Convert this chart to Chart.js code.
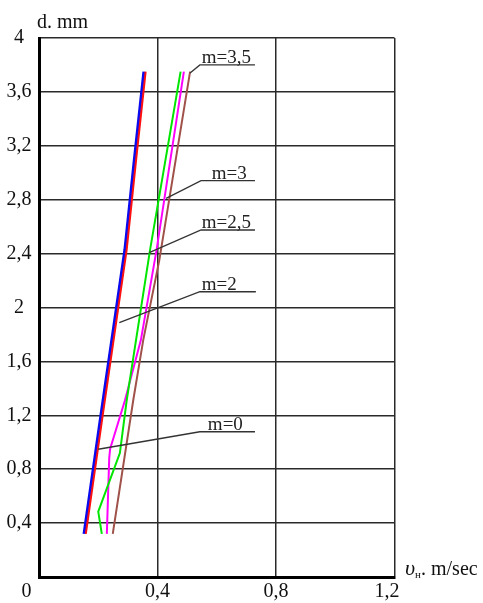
<!DOCTYPE html>
<html>
<head>
<meta charset="utf-8">
<script src="https://cdn.jsdelivr.net/npm/chart.js@4/dist/chart.umd.min.js"></script>
<style>
  html, body { margin: 0; padding: 0; background: #fff; }
</style>
</head>
<body>
<canvas id="myChart" width="483" height="603"></canvas>
<script>
const X_TICKS = [0, 0.4, 0.8, 1.2];
const X_TICK_LABELS = ["0", "0,4", "0,8", "1,2"];
const Y_TICKS = [0, 0.4, 0.8, 1.2, 1.6, 2, 2.4, 2.8, 3.2, 3.6, 4];
const Y_TICK_LABELS = ["", "0,4", "0,8", "1,2", "1,6", "2", "2,4", "2,8", "3,2", "3,6", "4"];

// speed (m/sec) vs diameter (mm), one pair of arrays per curve
const M0_V = [0.152, 0.209, 0.29, 0.322, 0.354];
const M0_D = [0.32, 1.2, 2.43, 3.1, 3.75];
const M2_V = [0.158, 0.215, 0.296, 0.328, 0.36];
const M2_D = [0.32, 1.2, 2.43, 3.1, 3.75];
const M25_V = [0.212, 0.2, 0.273, 0.296, 0.317, 0.375, 0.478];
const M25_D = [0.32, 0.485, 0.92, 1.31, 1.61, 2.43, 3.75];
const M3_V = [0.229, 0.237, 0.24, 0.29, 0.344, 0.397, 0.489];
const M3_D = [0.32, 0.88, 0.95, 1.31, 1.76, 2.43, 3.75];
const M35_V = [0.249, 0.318, 0.352, 0.406, 0.51];
const M35_D = [0.32, 1.31, 1.76, 2.35, 3.75];

const FONT = "'Liberation Serif', 'Times New Roman', serif";

// leader lines with labels, in data units
const CALLOUTS = [
  { text: "m=3,5", tip: [0.51, 3.74], from: 0.543, to: 0.729, at: 3.8, textX: 0.549 },
  { text: "m=3", tip: [0.429, 2.81], from: 0.547, to: 0.729, at: 2.941, textX: 0.583 },
  { text: "m=2,5", tip: [0.372, 2.407], from: 0.547, to: 0.729, at: 2.575, textX: 0.549 },
  { text: "m=2", tip: [0.271, 1.887], from: 0.543, to: 0.732, at: 2.117, textX: 0.549 },
  { text: "m=0", tip: [0.2, 0.948], from: 0.543, to: 0.729, at: 1.078, textX: 0.57 },
];

function toPoints(xs, ys) {
  return xs.map((x, i) => ({ x: x, y: ys[i] }));
}

const calloutPlugin = {
  id: "callouts",
  afterDatasetsDraw(chart) {
    const c = chart.ctx;
    const sx = chart.scales.x;
    const sy = chart.scales.y;
    c.save();
    c.strokeStyle = "#333";
    c.lineWidth = 1.3;
    c.fillStyle = "#222";
    c.font = "19px " + FONT;
    c.textBaseline = "alphabetic";
    CALLOUTS.forEach((co) => {
      const y = sy.getPixelForValue(co.at);
      c.beginPath();
      c.moveTo(sx.getPixelForValue(co.tip[0]), sy.getPixelForValue(co.tip[1]));
      c.lineTo(sx.getPixelForValue(co.from), y);
      c.lineTo(sx.getPixelForValue(co.to), y);
      c.stroke();
      c.fillText(co.text, sx.getPixelForValue(co.textX), y - 2);
    });

    // axis titles
    const area = chart.chartArea;
    c.fillStyle = "#111";
    c.font = "20px " + FONT;
    c.fillText("d. mm", area.left - 2, area.top - 10.5);
    let x = area.right + 10.5;
    const base = area.bottom - 2;
    c.font = "italic 22px " + FONT;
    c.fillText("\u03c5", x, base);
    x += c.measureText("\u03c5").width;
    c.font = "11px " + FONT;
    c.fillText("\u043d", x, base + 3);
    x += c.measureText("\u043d").width;
    c.font = "20px " + FONT;
    c.fillText(". m/sec", x, base);
    c.restore();
  },
};

function lineSet(label, xs, ys, color, width) {
  return {
    label: label,
    data: toPoints(xs, ys),
    showLine: true,
    borderColor: color,
    backgroundColor: color,
    borderWidth: width,
    pointRadius: 0,
    tension: 0,
  };
}

const ctx = document.getElementById("myChart").getContext("2d");

new Chart(ctx, {
  type: "scatter",
  data: {
    datasets: [
      lineSet("m=2", M2_V, M2_D, "#ff1010", 2),
      lineSet("m=0", M0_V, M0_D, "#0a0aee", 3),
      lineSet("m=2,5", M25_V, M25_D, "#00e600", 2),
      lineSet("m=3", M3_V, M3_D, "#ff00ff", 2),
      lineSet("m=3,5", M35_V, M35_D, "#a0524a", 2),
    ],
  },
  options: {
    responsive: false,
    animation: false,
    layout: { padding: { top: 38, right: 88.5, left: 0, bottom: 0 } },
    plugins: {
      legend: { display: false },
      tooltip: { enabled: false },
    },
    scales: {
      x: {
        type: "linear",
        min: 0,
        max: 1.2,
        afterBuildTicks: (scale) => {
          scale.ticks = X_TICKS.map((v) => ({ value: v }));
        },
        afterFit: (scale) => {
          scale.height = 26;
        },
        grid: { color: "#2a2a2a", lineWidth: 1.5, drawTicks: false },
        border: { color: "#000", width: 3 },
        ticks: {
          padding: 3,
          maxRotation: 0,
          autoSkip: false,
          color: "#111",
          font: { family: FONT, size: 20 },
          callback: function (value, index) {
            // first and last labels sit a bit left of their gridline
            if (index === 0) return X_TICK_LABELS[index] + "     ";
            if (index === X_TICKS.length - 1) return X_TICK_LABELS[index] + "   ";
            return X_TICK_LABELS[index];
          },
        },
      },
      y: {
        type: "linear",
        min: 0,
        max: 4,
        afterBuildTicks: (scale) => {
          scale.ticks = Y_TICKS.map((v) => ({ value: v }));
        },
        afterFit: (scale) => {
          scale.width = 39;
        },
        grid: { color: "#2a2a2a", lineWidth: 1.5, drawTicks: false },
        border: { color: "#000", width: 3 },
        ticks: {
          padding: 7.5,
          crossAlign: "center",
          autoSkip: false,
          color: "#111",
          font: { family: FONT, size: 20 },
          callback: function (value, index) {
            return Y_TICK_LABELS[index];
          },
        },
      },
    },
  },
  plugins: [calloutPlugin],
});
</script>
</body>
</html>
